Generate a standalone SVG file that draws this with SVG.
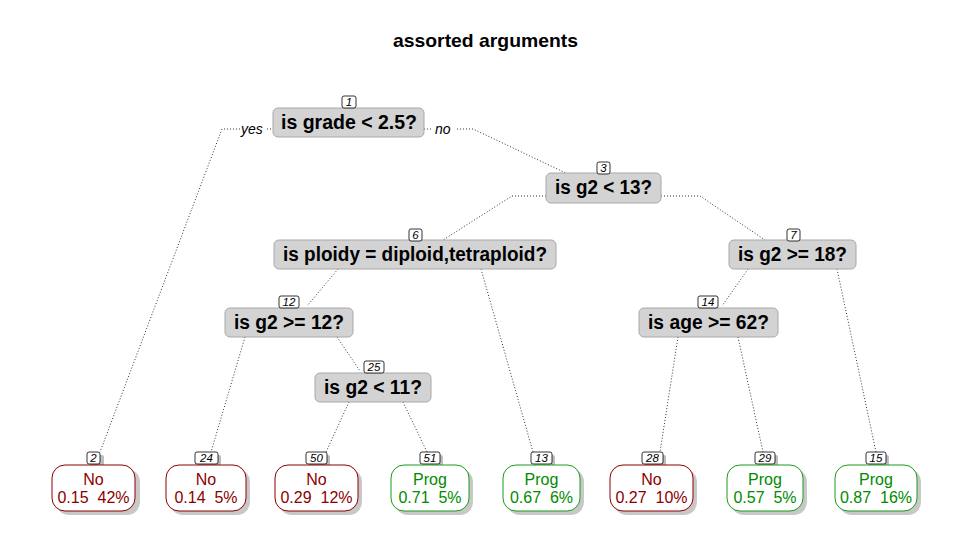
<svg xmlns="http://www.w3.org/2000/svg" width="970" height="544" viewBox="0 0 970 544">
<style>
.title{font-family:"Liberation Sans",Arial,sans-serif;font-weight:bold;font-size:19px;fill:#000}
.split{fill:#d3d3d3;stroke:#a8a8a8;stroke-width:1}
.slab{font-family:"Liberation Sans",Arial,sans-serif;font-weight:bold;font-size:19.5px;fill:#000;text-anchor:middle}
.num{fill:#fff;stroke:#000;stroke-width:0.8}
.nsh{fill:#bdbdbd}
.ntxt{font-family:"Liberation Sans",Arial,sans-serif;font-style:italic;font-size:11.5px;fill:#000;text-anchor:middle}
.lsh{fill:#c8c8c8}
.leafNo{fill:#fff;stroke:#8b0000;stroke-width:1}
.leafProg{fill:#fff;stroke:#1a9a1a;stroke-width:1}
.ltxt{font-family:"Liberation Sans",Arial,sans-serif;font-size:16px;text-anchor:middle}
.tNo{fill:#8b0000}
.tProg{fill:#008b00}
.edge{fill:none;stroke:#333;stroke-width:1;stroke-dasharray:1 2}
.yn{font-family:"Liberation Sans",Arial,sans-serif;font-style:italic;font-size:14px;fill:#000}
</style>
<rect width="970" height="544" fill="#fff"/>
<text class="title" x="485.5" y="47" text-anchor="middle" textLength="185" lengthAdjust="spacingAndGlyphs">assorted arguments</text>

<g id="connectors">
<path class="edge" d="M240,129 H222 L100,452"/>
<path class="edge" d="M267,129 H273"/>
<path class="edge" d="M424,129 H432"/>
<path class="edge" d="M457,129 H473 L570,175"/>
<path class="edge" d="M546,196 H512 L443,240"/>
<path class="edge" d="M661,196 H700 L765,240"/>
<path class="edge" d="M338,269 L307,306"/>
<path class="edge" d="M481,269 L533,452"/>
<path class="edge" d="M245,337 L211,452"/>
<path class="edge" d="M337,337 L360,371"/>
<path class="edge" d="M349,402 L326,452"/>
<path class="edge" d="M403,402 L427,452"/>
<path class="edge" d="M748,269 L722,306"/>
<path class="edge" d="M837,269 L876,452"/>
<path class="edge" d="M678,337 L660,452"/>
<path class="edge" d="M738,337 L763,452"/>
<text class="yn" x="241" y="134">yes</text>
<text class="yn" x="435" y="134">no</text>
</g>

<g id="node1">
<rect class="split" x="273" y="108" width="151" height="29" rx="5"/>
<text class="slab" x="349" y="129" textLength="136" lengthAdjust="spacingAndGlyphs">is grade &lt; 2.5?</text>
<rect class="num" x="342" y="96" width="14" height="12" rx="2"/>
<text class="ntxt" x="349" y="106">1</text>
</g>

<g id="node3">
<rect class="split" x="546" y="173" width="115" height="30" rx="5"/>
<text class="slab" x="603.5" y="194" textLength="97" lengthAdjust="spacingAndGlyphs">is g2 &lt; 13?</text>
<rect class="num" x="597" y="162" width="13" height="12" rx="2"/>
<text class="ntxt" x="603.5" y="172">3</text>
</g>

<g id="node6">
<rect class="split" x="274" y="240" width="282" height="29" rx="5"/>
<text class="slab" x="415" y="261" textLength="264" lengthAdjust="spacingAndGlyphs">is ploidy = diploid,tetraploid?</text>
<rect class="num" x="409" y="229" width="13" height="12" rx="2"/>
<text class="ntxt" x="415.5" y="239">6</text>
</g>

<g id="node12">
<rect class="split" x="225" y="308" width="128" height="29" rx="5"/>
<text class="slab" x="289" y="329" textLength="110" lengthAdjust="spacingAndGlyphs">is g2 &gt;= 12?</text>
<rect class="num" x="279" y="296" width="20" height="12" rx="2"/>
<text class="ntxt" x="289" y="306">12</text>
</g>

<g id="node25">
<rect class="split" x="315" y="373" width="116" height="29" rx="5"/>
<text class="slab" x="373" y="394" textLength="98" lengthAdjust="spacingAndGlyphs">is g2 &lt; 11?</text>
<rect class="num" x="364" y="361" width="20" height="12" rx="2"/>
<text class="ntxt" x="374" y="371">25</text>
</g>

<g id="node7">
<rect class="split" x="729" y="240" width="127" height="29" rx="5"/>
<text class="slab" x="792.5" y="261" textLength="109" lengthAdjust="spacingAndGlyphs">is g2 &gt;= 18?</text>
<rect class="num" x="787" y="229" width="13" height="12" rx="2"/>
<text class="ntxt" x="793.5" y="239">7</text>
</g>

<g id="node14">
<rect class="split" x="639" y="308" width="139" height="29" rx="5"/>
<text class="slab" x="708.5" y="329" textLength="121" lengthAdjust="spacingAndGlyphs">is age &gt;= 62?</text>
<rect class="num" x="698" y="296" width="20" height="12" rx="2"/>
<text class="ntxt" x="708" y="306">14</text>
</g>

<g id="leaf2">
<rect class="nsh" x="90" y="455" width="14" height="12" rx="2"/>
<rect class="num" x="87" y="452" width="13" height="12" rx="2"/>
<text class="ntxt" x="93.5" y="462">2</text>
<rect class="lsh" x="56" y="469" width="84" height="46" rx="13"/>
<rect class="leafNo" x="52" y="465" width="83" height="46" rx="13"/>
<text class="ltxt tNo" x="93.5" y="485">No</text>
<text class="ltxt tNo" x="93.5" y="503" xml:space="preserve">0.15  42%</text>
</g>

<g id="leaf24">
<rect class="nsh" x="198" y="455" width="23" height="12" rx="2"/>
<rect class="num" x="195" y="452" width="23" height="12" rx="2"/>
<text class="ntxt" x="206.5" y="462">24</text>
<rect class="lsh" x="170" y="469" width="80" height="46" rx="13"/>
<rect class="leafNo" x="166" y="465" width="80" height="46" rx="13"/>
<text class="ltxt tNo" x="206" y="485">No</text>
<text class="ltxt tNo" x="206" y="503" xml:space="preserve">0.14  5%</text>
</g>

<g id="leaf50">
<rect class="nsh" x="309" y="455" width="21" height="12" rx="2"/>
<rect class="num" x="306" y="452" width="21" height="12" rx="2"/>
<text class="ntxt" x="316.5" y="462">50</text>
<rect class="lsh" x="279" y="469" width="83" height="46" rx="13"/>
<rect class="leafNo" x="275" y="465" width="83" height="46" rx="13"/>
<text class="ltxt tNo" x="316.5" y="485">No</text>
<text class="ltxt tNo" x="316.5" y="503" xml:space="preserve">0.29  12%</text>
</g>

<g id="leaf51">
<rect class="nsh" x="423" y="455" width="20" height="12" rx="2"/>
<rect class="num" x="420" y="452" width="20" height="12" rx="2"/>
<text class="ntxt" x="430" y="462">51</text>
<rect class="lsh" x="395" y="469" width="78" height="46" rx="13"/>
<rect class="leafProg" x="391" y="465" width="78" height="46" rx="13"/>
<text class="ltxt tProg" x="430" y="485">Prog</text>
<text class="ltxt tProg" x="430" y="503" xml:space="preserve">0.71  5%</text>
</g>

<g id="leaf13">
<rect class="nsh" x="534" y="455" width="21" height="12" rx="2"/>
<rect class="num" x="531" y="452" width="21" height="12" rx="2"/>
<text class="ntxt" x="541.5" y="462">13</text>
<rect class="lsh" x="507" y="469" width="77" height="46" rx="13"/>
<rect class="leafProg" x="503" y="465" width="77" height="46" rx="13"/>
<text class="ltxt tProg" x="541.5" y="485">Prog</text>
<text class="ltxt tProg" x="541.5" y="503" xml:space="preserve">0.67  6%</text>
</g>

<g id="leaf28">
<rect class="nsh" x="645" y="455" width="21" height="12" rx="2"/>
<rect class="num" x="642" y="452" width="21" height="12" rx="2"/>
<text class="ntxt" x="652.5" y="462">28</text>
<rect class="lsh" x="614" y="469" width="83" height="46" rx="13"/>
<rect class="leafNo" x="610" y="465" width="83" height="46" rx="13"/>
<text class="ltxt tNo" x="651.5" y="485">No</text>
<text class="ltxt tNo" x="651.5" y="503" xml:space="preserve">0.27  10%</text>
</g>

<g id="leaf29">
<rect class="nsh" x="758" y="455" width="20" height="12" rx="2"/>
<rect class="num" x="755" y="452" width="20" height="12" rx="2"/>
<text class="ntxt" x="765" y="462">29</text>
<rect class="lsh" x="731" y="469" width="76" height="46" rx="13"/>
<rect class="leafProg" x="727" y="465" width="76" height="46" rx="13"/>
<text class="ltxt tProg" x="765" y="485">Prog</text>
<text class="ltxt tProg" x="765" y="503" xml:space="preserve">0.57  5%</text>
</g>

<g id="leaf15">
<rect class="nsh" x="869" y="455" width="20" height="12" rx="2"/>
<rect class="num" x="866" y="452" width="20" height="12" rx="2"/>
<text class="ntxt" x="876" y="462">15</text>
<rect class="lsh" x="839" y="469" width="82" height="46" rx="13"/>
<rect class="leafProg" x="835" y="465" width="82" height="46" rx="13"/>
<text class="ltxt tProg" x="876" y="485">Prog</text>
<text class="ltxt tProg" x="876" y="503" xml:space="preserve">0.87  16%</text>
</g>
</svg>
